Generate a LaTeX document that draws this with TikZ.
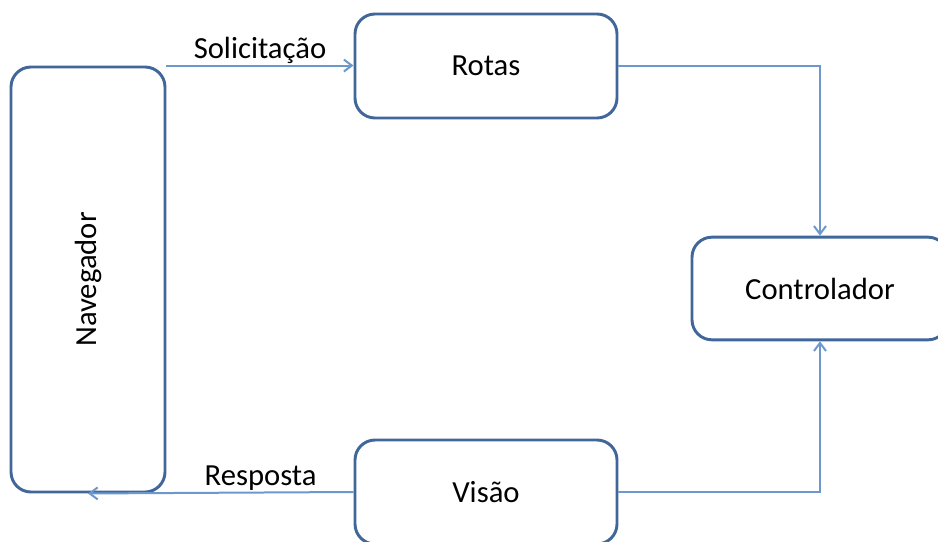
\documentclass[tikz,border=0pt]{standalone}
\usepackage{fontspec}
\setmainfont{Carlito}
\usepackage{xcolor}
\usetikzlibrary{arrows.meta}
\definecolor{boxblue}{HTML}{41679A}
\definecolor{lineblue}{HTML}{6C98CE}
\begin{document}
\begin{tikzpicture}[x=0.75pt,y=-0.75pt,
    caixa/.style={draw=boxblue,line width=2.2pt,rounded corners=15pt,
      font=\fontsize{23}{27}\selectfont,inner sep=0pt},
    seta/.style={draw=lineblue,line width=1.5pt,-{Straight Barb[length=6pt,width=9pt]}},
    rotulo/.style={font=\fontsize{23}{27}\selectfont,inner sep=1pt}]
          \useasboundingbox (0,0) rectangle (938,542);
          \node[caixa,minimum width=115.5pt,minimum height=318.75pt] (nav) at (88,279.5) {\rotatebox{90}{Navegador}};
          \node[caixa,minimum width=196.5pt,minimum height=78pt] (rotas) at (486,66) {Rotas};
          \node[caixa,minimum width=192pt,minimum height=77pt] (ctrl) at (820,288.5) {Controlador};
          \node[caixa,minimum width=196.5pt,minimum height=78pt] (visao) at (486,492) {Visão};
          % conexoes
          \draw[seta] (nav.north east) -- node[rotulo,above] {Solicitação} (nav.north east -| rotas.west);
          \draw[seta] (rotas.east) -| (ctrl.north);
          \draw[seta] (visao.east) -| (ctrl.south);
          \draw[seta] (visao.west) -- node[rotulo,above,pos=0.35] {Resposta} (nav.south);
        \end{tikzpicture}
\end{document}
